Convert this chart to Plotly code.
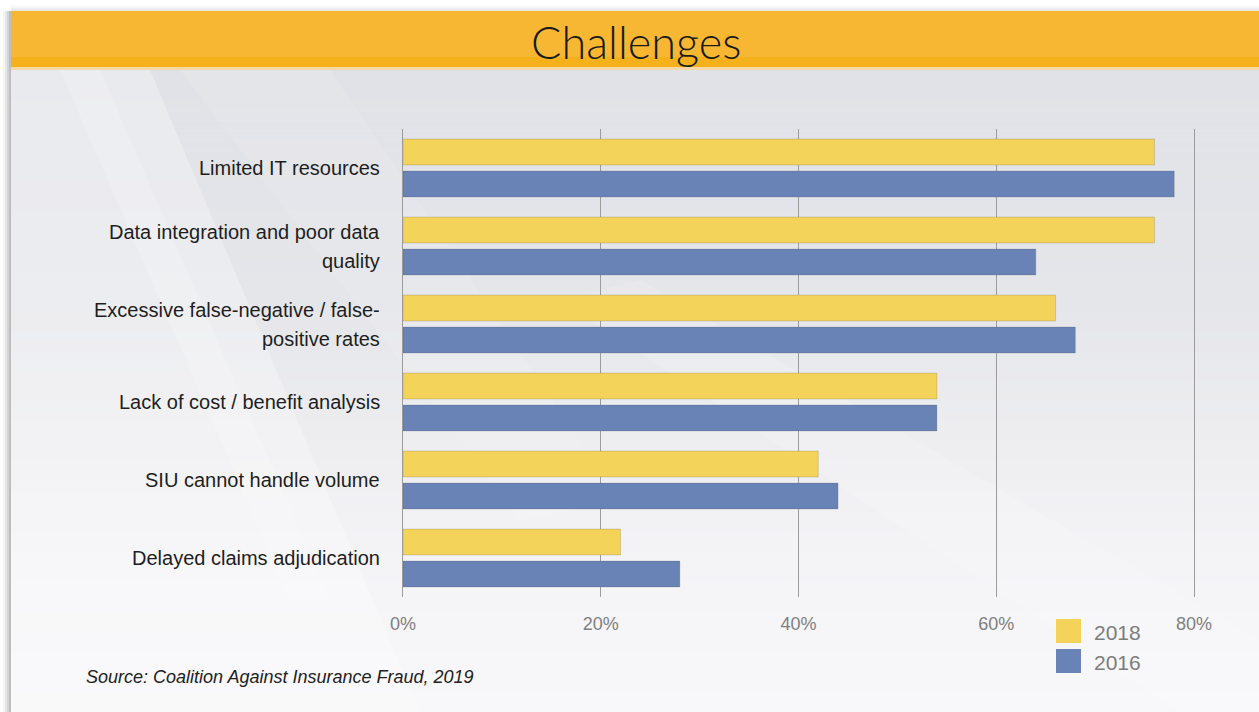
import plotly.graph_objects as go

# ---- data -------------------------------------------------------------
categories = [
    "Limited IT resources",
    "Data integration and poor data\nquality",
    "Excessive false-negative / false-\npositive rates",
    "Lack of cost / benefit analysis",
    "SIU cannot handle volume",
    "Delayed claims adjudication",
]
series_names = ["2018", "2016"]
values_2018 = [76, 76, 66, 54, 42, 22]
values_2016 = [78, 64, 68, 54, 44, 28]
tick_values = [0, 20, 40, 60, 80]
tick_labels = ["0%", "20%", "40%", "60%", "80%"]

title_text = "Challenges"
source_text = "Source: Coalition Against Insurance Fraud, 2019"

# ---- styling ----------------------------------------------------------
W, H = 1259, 712
PLOT_L, PLOT_R, PLOT_T, PLOT_B = 403, 1194, 129, 597
YELLOW = "#F3D35A"
BLUE = "#6A83B7"
GRID = "#9c9c9c"
colors = [YELLOW, BLUE]
FONT = "Liberation Sans, Arial, sans-serif"


def px_x(x):
    """pixel x -> paper x (relative to plot area)"""
    return (x - PLOT_L) / (PLOT_R - PLOT_L)


def px_y(y):
    """pixel y (from top) -> paper y (relative to plot area)"""
    return (PLOT_B - y) / (PLOT_B - PLOT_T)


def rect(x0, y0, x1, y1, color, layer="below"):
    return dict(type="rect", xref="paper", yref="paper",
                x0=px_x(x0), x1=px_x(x1), y0=px_y(y0), y1=px_y(y1),
                fillcolor=color, line=dict(width=0), layer=layer)


def poly(points, color):
    path = "M " + " L ".join(f"{px_x(x)},{px_y(y)}" for x, y in points) + " Z"
    return dict(type="path", xref="paper", yref="paper", path=path,
                fillcolor=color, line=dict(width=0), layer="below")


fig = go.Figure()
for name, vals, col in zip(series_names, [values_2018, values_2016], colors):
    fig.add_trace(go.Bar(
        y=categories, x=vals, name=name, orientation="h",
        marker=dict(color=col, line=dict(color="rgba(60,60,60,0.18)", width=1)),
        showlegend=False,
    ))

shapes = []
# slide drop shadow on the left / top
for i, a in enumerate([0.04, 0.06, 0.08, 0.10]):
    shapes.append(rect(3 + 2 * i, 11, 11, H, f"rgba(0,0,0,{a})"))
    shapes.append(rect(11, 5 + 1.5 * i, W, 11, f"rgba(0,0,0,{a * 0.35})"))

# slide background: soft vertical gradient from cool grey to near white
stops = [(70, (224, 226, 231)), (300, (229, 230, 234)), (450, (238, 238, 241)),
         (560, (244, 243, 246)), (712, (248, 247, 249))]
bands = 64
top, bottom = 70, H
for i in range(bands):
    y0 = top + (bottom - top) * i / bands
    y1 = top + (bottom - top) * (i + 1) / bands + 0.6
    ym = (y0 + y1) / 2
    for (ya, ca), (yb, cb) in zip(stops[:-1], stops[1:]):
        if ya <= ym <= yb:
            t = (ym - ya) / (yb - ya)
            c = tuple(round(ca[k] + (cb[k] - ca[k]) * t) for k in range(3))
            break
    shapes.append(rect(11, y0, W, y1, f"rgb{c}"))

# faint diagonal sweeps
shapes.append(poly([(11, 70), (150, 70), (420, 712), (11, 712)], "rgba(255,255,255,0.28)"))
shapes.append(poly([(60, 70), (100, 70), (330, 600), (290, 600)], "rgba(255,255,255,0.18)"))
shapes.append(poly([(180, 70), (330, 70), (620, 500), (520, 520)], "rgba(255,255,255,0.10)"))
shapes.append(poly([(560, 300), (640, 280), (1259, 640), (1259, 712), (1180, 712)], "rgba(255,255,255,0.15)"))

# title bar
shapes.append(rect(11, 11, W, 69, "#F7B733"))
shapes.append(rect(11, 57, W, 67, "#F5B11C"))
shapes.append(rect(11, 67, W, 70, "#F6D7A6"))

# legend swatches
legend_rows = [(619, 643), (649, 673)]
for (y0, y1), col in zip(legend_rows, colors):
    shapes.append(rect(1056, y0, 1081, y1, col, layer="above"))

annotations = []
# title
annotations.append(dict(
    text=title_text, xref="paper", yref="paper", x=px_x(636), y=px_y(42),
    xanchor="center", yanchor="middle", showarrow=False,
    font=dict(family="Lato, Open Sans, sans-serif", size=45, color="#1a1a1a", weight=300),
))
# category labels, one annotation per line
LINE_STEP = 29
for cat in categories:
    lines = cat.split("\n")
    n = len(lines)
    for j, line in enumerate(lines):
        annotations.append(dict(
            text=line, xref="paper", yref="y", x=0, y=cat,
            xanchor="right", yanchor="middle", xshift=-21,
            yshift=((n - 1) / 2 - j) * LINE_STEP, showarrow=False,
            font=dict(family=FONT, size=20, color="#1e1e1e"),
        ))
# legend labels
for (y0, y1), name in zip(legend_rows, series_names):
    annotations.append(dict(
        text=name, xref="paper", yref="paper", x=px_x(1092), y=px_y((y0 + y1) / 2 + 1),
        xanchor="left", yanchor="middle", showarrow=False,
        font=dict(family=FONT, size=21, color="#7d7d7d"),
    ))
# source note
annotations.append(dict(
    text=f"<i>{source_text}</i>", xref="paper", yref="paper", x=px_x(84), y=px_y(677),
    xanchor="left", yanchor="middle", showarrow=False,
    font=dict(family=FONT, size=18, color="#222222"),
))

fig.update_layout(
    width=W, height=H, autosize=False,
    margin=dict(l=PLOT_L, r=W - PLOT_R, t=PLOT_T, b=H - PLOT_B, pad=0),
    paper_bgcolor="white", plot_bgcolor="rgba(0,0,0,0)",
    barmode="group", bargap=0.18, bargroupgap=0.19,
    shapes=shapes, annotations=annotations,
    xaxis=dict(
        range=[0, 80], tickvals=tick_values, ticktext=tick_labels,
        showgrid=True, gridcolor=GRID, gridwidth=1,
        zeroline=False, showline=False, ticks="",
        tickfont=dict(family=FONT, size=18, color="#808080"),
        ticklabelstandoff=14, fixedrange=True,
    ),
    # the y axis line (mirrored) draws the 0% and 80% grid lines at the edges
    yaxis=dict(
        autorange="reversed", showticklabels=False, showgrid=False,
        zeroline=False, showline=True, mirror=True, linecolor=GRID, linewidth=1,
        ticks="", fixedrange=True,
    ),
    font=dict(family=FONT),
)

fig.write_html("out.html", config={"displayModeBar": False})
